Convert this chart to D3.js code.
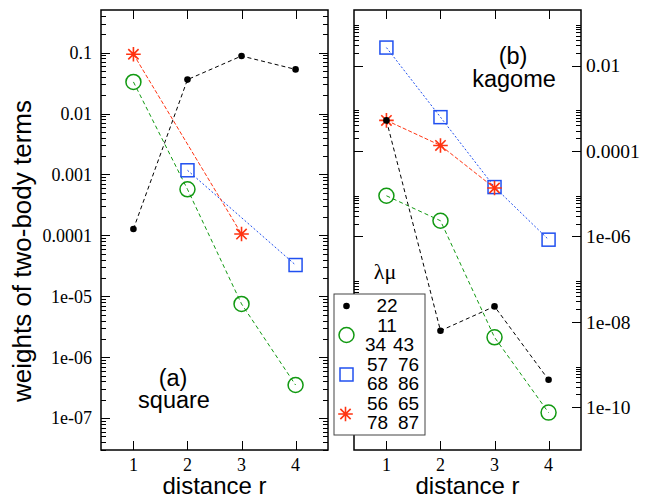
<!DOCTYPE html>
<html><head><meta charset="utf-8">
<script src="https://cdn.jsdelivr.net/npm/d3@7"></script>
<style>body{margin:0;background:#fff}svg{display:block}</style>
</head><body>
<svg id="c" width="650" height="498"></svg>
<script>
// ---- data ----
const distances = [1, 2, 3, 4];
// (a) square lattice
const squareDot22 = [1.27e-4, 0.036, 0.088, 0.053];
const squareCircle = [0.033, 5.7e-4, 7.5e-6, 3.5e-7];
const squareSquare = [null, 1.17e-3, null, 3.26e-5];
const squareStar = [0.094, null, 1.05e-4, null];
// (b) kagome lattice
const kagomeDot22 = [5.2e-4, 6.2e-9, 2.3e-8, 4.4e-10];
const kagomeCircle = [8.95e-6, 2.33e-6, 4.34e-9, 7.5e-11];
const kagomeSquare = [0.0264, 6.2e-4, 1.43e-5, 8.4e-7];
const kagomeStar = [5.2e-4, 1.35e-4, 1.36e-5, null];
// ticks
const xTicks = [1, 2, 3, 4];
const leftYTicks = [1e-7, 1e-6, 1e-5, 1e-4, 1e-3, 1e-2, 1e-1];
const leftYLabels = ["1e-07", "1e-06", "1e-05", "0.0001", "0.001", "0.01", "0.1"];
const rightYTicks = [1e-10, 1e-8, 1e-6, 1e-4, 1e-2];
const rightYLabels = ["1e-10", "1e-08", "1e-06", "0.0001", "0.01"];
const legendLabels = [["22"], ["11"], ["34", "43"], ["57", "76"], ["68", "86"], ["56", "65"], ["78", "87"]];

const COL = {dot: "#000", circle: "#119911", square: "#2050f0", star: "#ff3311"};
const serif = "'Liberation Serif','Times New Roman',serif";
const sans = "'Liberation Sans',Arial,Helvetica,sans-serif";

const svg = d3.select("#c");

function panel(opt) {
  const {x0, x1, y0, y1, ydomain, majors, minorBases, labels, labelSide, labelSize, series} = opt;
  const x = d3.scaleLinear().domain([0.4, 4.6]).range([x0, x1]);
  const y = d3.scaleLog().domain(ydomain).range([y1, y0]);
  const g = svg.append("g");
  const minors = [];
  minorBases.forEach(k => { for (let m = 2; m <= 9; m++) { const v = m * Math.pow(10, k); if (v > ydomain[0] && v < ydomain[1]) minors.push(v); } });
  const tickG = g.append("g").attr("stroke", "#000").attr("stroke-width", 1);
  minors.forEach(v => {
    const yy = Math.round(y(v)) + 0.5;
    tickG.append("line").attr("x1", x0).attr("x2", x0 + 5).attr("y1", yy).attr("y2", yy);
    tickG.append("line").attr("x1", x1).attr("x2", x1 - 5).attr("y1", yy).attr("y2", yy);
  });
  majors.forEach(v => {
    const yy = Math.round(y(v)) + 0.5;
    tickG.append("line").attr("x1", x0).attr("x2", x0 + 9).attr("y1", yy).attr("y2", yy);
    tickG.append("line").attr("x1", x1).attr("x2", x1 - 9).attr("y1", yy).attr("y2", yy);
  });
  xTicks.forEach(v => {
    const xx = Math.round(x(v)) + 0.5;
    tickG.append("line").attr("x1", xx).attr("x2", xx).attr("y1", y1).attr("y2", y1 - 9);
    tickG.append("line").attr("x1", xx).attr("x2", xx).attr("y1", y0).attr("y2", y0 + 9);
  });
  g.append("rect").attr("x", x0).attr("y", y0).attr("width", x1 - x0).attr("height", y1 - y0)
    .attr("fill", "none").attr("stroke", "#000").attr("stroke-width", 1.5);
  majors.forEach((v, i) => {
    g.append("text").attr("x", labelSide === "left" ? x0 - 9 : x1 + 5).attr("y", y(v)).attr("dy", "0.35em")
      .attr("text-anchor", labelSide === "left" ? "end" : "start")
      .attr("font-family", serif).attr("font-size", labelSize).text(labels[i]);
  });
  xTicks.forEach(v => {
    g.append("text").attr("x", x(v)).attr("y", 471).attr("text-anchor", "middle")
      .attr("font-family", serif).attr("font-size", 18).text(v);
  });
  g.append("text").attr("x", (x0 + x1) / 2).attr("y", 494).attr("text-anchor", "middle")
    .attr("font-family", sans).attr("font-size", 24).text("distance r");
  series.forEach(s => {
    const pts = distances.map((d, i) => [d, s.values[i]]).filter(p => p[1] != null);
    g.append("path").attr("d", d3.line().x(p => x(p[0])).y(p => y(p[1]))(pts))
      .attr("fill", "none").attr("stroke", COL[s.type]).attr("stroke-width", 1).attr("stroke-dasharray", s.dash);
    pts.forEach(p => marker(g, s.type, x(p[0]), y(p[1])));
  });
  return {x, y, g};
}

function marker(g, type, cx, cy) {
  if (type === "dot") {
    g.append("circle").attr("cx", cx).attr("cy", cy).attr("r", 3.3).attr("fill", COL.dot);
  } else if (type === "circle") {
    g.append("circle").attr("cx", cx).attr("cy", cy).attr("r", 7.5).attr("fill", "none").attr("stroke", COL.circle).attr("stroke-width", 1.5);
  } else if (type === "square") {
    g.append("rect").attr("x", cx - 6.5).attr("y", cy - 6.5).attr("width", 13).attr("height", 13).attr("fill", "none").attr("stroke", COL.square).attr("stroke-width", 1.5);
  } else if (type === "star") {
    const r = 7.3;
    const pth = d3.path();
    for (let k = 0; k < 4; k++) {
      const a = k * Math.PI / 4;
      pth.moveTo(cx - r * Math.cos(a), cy - r * Math.sin(a));
      pth.lineTo(cx + r * Math.cos(a), cy + r * Math.sin(a));
    }
    g.append("path").attr("d", pth.toString()).attr("stroke", COL.star).attr("stroke-width", 1.6).attr("fill", "none");
  }
}

const dashes = {dot: "4,3", circle: "4,3", square: "2,2", star: "4,2"};

panel({
  x0: 101, x1: 328, y0: 10, y1: 450, ydomain: [3e-8, 0.5],
  majors: leftYTicks, labels: leftYLabels, labelSide: "left", labelSize: 18,
  minorBases: [-8, -7, -6, -5, -4, -3, -2, -1],
  series: [
    {type: "circle", values: squareCircle, dash: dashes.circle},
    {type: "square", values: squareSquare, dash: dashes.square},
    {type: "star", values: squareStar, dash: dashes.star},
    {type: "dot", values: squareDot22, dash: dashes.dot}
  ]
});
panel({
  x0: 354, x1: 581, y0: 10, y1: 450, ydomain: [1e-11, 0.2],
  majors: rightYTicks, labels: rightYLabels, labelSide: "right", labelSize: 19.5,
  minorBases: [-12, -10, -8, -6, -4, -2],
  series: [
    {type: "circle", values: kagomeCircle, dash: dashes.circle},
    {type: "square", values: kagomeSquare, dash: dashes.square},
    {type: "star", values: kagomeStar, dash: dashes.star},
    {type: "dot", values: kagomeDot22, dash: dashes.dot}
  ]
});

// y title
svg.append("text").attr("transform", "translate(31,251) rotate(-90)").attr("text-anchor", "middle")
  .attr("font-family", sans).attr("font-size", 26).text("weights of two-body terms");

// panel labels
function label(x, y, t) { svg.append("text").attr("x", x).attr("y", y).attr("text-anchor", "middle").attr("font-family", sans).attr("font-size", 23.5).text(t); }
label(173, 386, "(a)"); label(174, 408, "square");
label(513, 64, "(b)"); label(514, 87, "kagome");

// legend
svg.append("text").attr("x", 385).attr("y", 279).attr("text-anchor", "middle").attr("font-family", serif).attr("font-size", 22).text("λμ");
const lg = svg.append("g");
lg.append("rect").attr("x", 334).attr("y", 294).attr("width", 91).attr("height", 141).attr("fill", "#fff").attr("stroke", "#444").attr("stroke-width", 1);
const rowY = [312, 331.5, 351, 370.5, 390, 409.5, 429];
legendLabels.forEach((row, i) => {
  if (row.length === 1) {
    lg.append("text").attr("x", 387).attr("y", rowY[i]).attr("text-anchor", "middle").attr("font-family", sans).attr("font-size", 19).text(row[0]);
  } else {
    lg.append("text").attr("x", i === 2 ? 365 : 367).attr("y", rowY[i]).attr("font-family", sans).attr("font-size", 19).text(row[0]);
    lg.append("text").attr("x", i === 2 ? 393 : 398).attr("y", rowY[i]).attr("font-family", sans).attr("font-size", 19).text(row[1]);
  }
});
marker(lg, "dot", 346.5, 306);
marker(lg, "circle", 346.5, 335);
marker(lg, "square", 346.5, 374.5);
marker(lg, "star", 345.5, 414);
</script>
</body></html>
